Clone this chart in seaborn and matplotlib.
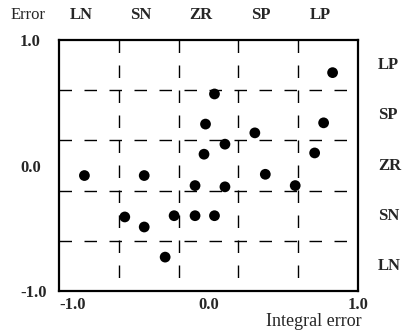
import matplotlib
matplotlib.use("Agg")
import matplotlib.pyplot as plt
import seaborn as sns
import pandas as pd

# ---- data ----
integral_error = [0.83, 0.04, -0.02, 0.77, 0.31, 0.11, -0.03, 0.71, -0.83, -0.43,
                  0.38, -0.09, 0.11, 0.58, -0.56, -0.23, -0.09, 0.04, -0.43, -0.29]
error = [0.74, 0.57, 0.33, 0.34, 0.26, 0.17, 0.09, 0.10, -0.08, -0.08,
         -0.07, -0.16, -0.17, -0.16, -0.41, -0.40, -0.40, -0.40, -0.49, -0.73]
categories = ["LN", "SN", "ZR", "SP", "LP"]
boundaries = [-0.6, -0.2, 0.2, 0.6]
tick_values = [-1.0, 0.0, 1.0]
tick_labels = ["-1.0", "0.0", "1.0"]

df = pd.DataFrame({"Integral error": integral_error, "Error": error})

sns.set_theme(style="white")
plt.rcParams["font.family"] = ["Liberation Serif", "DejaVu Serif"]

fig = plt.figure(figsize=(4.09, 3.36), dpi=100)
ax = fig.add_axes([59 / 409, 45 / 336, 299 / 409, 251 / 336])

ax.set_xlim(-1, 1)
ax.set_ylim(-1, 1)

# dashed partition lines
for b in boundaries:
    ax.plot([-1, 1], [b, b], color="black", lw=1.0, dashes=(9, 9), zorder=1)
    ax.plot([b, b], [1, -1], color="black", lw=1.0, dashes=(9, 9), zorder=1)

sns.scatterplot(data=df, x="Integral error", y="Error", ax=ax, color="black",
                s=60, edgecolor="none", legend=False, zorder=3)

for sp in ax.spines.values():
    sp.set_color("black")
    sp.set_linewidth(1.6)

ax.set_xticks(tick_values)
ax.set_xticklabels(tick_labels, fontsize=12, fontweight="bold")
ax.set_yticks(tick_values)
ax.set_yticklabels(tick_labels, fontsize=12, fontweight="bold")
ax.tick_params(axis="both", length=0)
ax.tick_params(axis="x", pad=4)
ax.tick_params(axis="y", pad=28)
for lab in ax.get_yticklabels():
    lab.set_horizontalalignment("left")
ax.get_xticklabels()[0].set_horizontalalignment("left")

ax.set_xlabel("Integral error", fontsize=13)
ax.set_ylabel("")
ax.xaxis.set_label_coords(1.013, -0.088)
ax.xaxis.label.set_horizontalalignment("right")

# fuzzy set labels
edges = [-1.0] + boundaries + [1.0]
centers = [(edges[i] + edges[i + 1]) / 2 for i in range(len(categories))]
for c, name in zip(centers, categories):
    ax.text(c - 0.05, 1.10, name, transform=ax.get_xaxis_transform(),
            ha="center", va="center", fontsize=12, fontweight="bold")
    ax.text(1.067, c, name, transform=ax.get_yaxis_transform(),
            ha="left", va="center", fontsize=12, fontweight="bold")

fig.text(28 / 409, 1 - 15 / 336, "Error", ha="center", va="center", fontsize=12)

fig.savefig("out.png", dpi=100)
